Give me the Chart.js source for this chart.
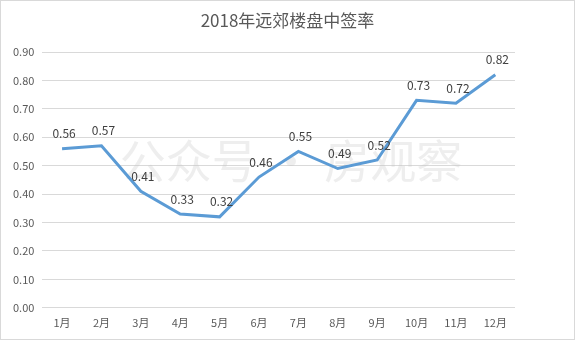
<!DOCTYPE html>
<html>
<head>
<meta charset="utf-8">
<script src="https://cdn.jsdelivr.net/npm/chart.js@4/dist/chart.umd.min.js"></script>
<style>
  html, body { margin: 0; padding: 0; background: #fff; }
  #wrap { position: relative; width: 573px; height: 338px; border: 1px solid #d9d9d9; }
</style>
</head>
<body>
<div id="wrap"><canvas id="c" width="573" height="338"></canvas></div>
<script>
const months = ['1月', '2月', '3月', '4月', '5月', '6月', '7月', '8月', '9月', '10月', '11月', '12月'];
const rates = [0.56, 0.57, 0.41, 0.33, 0.32, 0.46, 0.55, 0.49, 0.52, 0.73, 0.72, 0.82];
const chartTitle = '2018年远郊楼盘中签率';

const font = '"Microsoft YaHei", "Noto Sans CJK SC", "Liberation Sans", sans-serif';

// title centred on the whole canvas, plus a faint watermark across the plot
const backdrop = {
  id: 'backdrop',
  beforeDatasetsDraw(chart) {
    const {ctx, width} = chart;
    ctx.save();
    ctx.textAlign = 'center';
    ctx.textBaseline = 'middle';
    ctx.font = '17px ' + font;
    ctx.fillStyle = '#595959';
    ctx.fillText(chartTitle, width / 2, 20);
    ctx.font = '46px ' + font;
    ctx.fillStyle = 'rgba(200,200,200,0.3)';
    ctx.fillText('公众号 · 房观察', 290, 160);
    ctx.restore();
  }
};

// value labels above each point
const valueLabels = {
  id: 'valueLabels',
  afterDatasetsDraw(chart) {
    const {ctx} = chart;
    const meta = chart.getDatasetMeta(0);
    ctx.save();
    ctx.font = '12px ' + font;
    ctx.fillStyle = '#404040';
    ctx.textAlign = 'center';
    ctx.textBaseline = 'bottom';
    meta.data.forEach((pt, i) => {
      ctx.fillText(rates[i].toFixed(2), pt.x + 2, pt.y - 9);
    });
    ctx.restore();
  }
};

new Chart(document.getElementById('c'), {
  type: 'line',
  data: {
    labels: months,
    datasets: [{
      data: rates,
      borderColor: '#5b9bd5',
      borderWidth: 3,
      pointRadius: 0,
      tension: 0,
      fill: false
    }]
  },
  options: {
    responsive: false,
    animation: false,
    layout: { padding: { left: 4, right: 59, top: 51, bottom: 10 } },
    plugins: {
      legend: { display: false },
      tooltip: { enabled: false },
      title: { display: false }
    },
    scales: {
      x: {
        offset: true,
        grid: { display: false },
        border: { display: false },
        ticks: { color: '#595959', font: { family: font, size: 11 }, padding: 0, maxRotation: 0 }
      },
      y: {
        min: 0,
        max: 0.9,
        ticks: {
          stepSize: 0.1,
          color: '#595959',
          font: { family: font, size: 11 },
          padding: 8,
          callback: v => v.toFixed(2)
        },
        grid: { color: '#d9d9d9', drawTicks: false },
        border: { display: false }
      }
    }
  },
  plugins: [backdrop, valueLabels]
});
</script>
</body>
</html>
